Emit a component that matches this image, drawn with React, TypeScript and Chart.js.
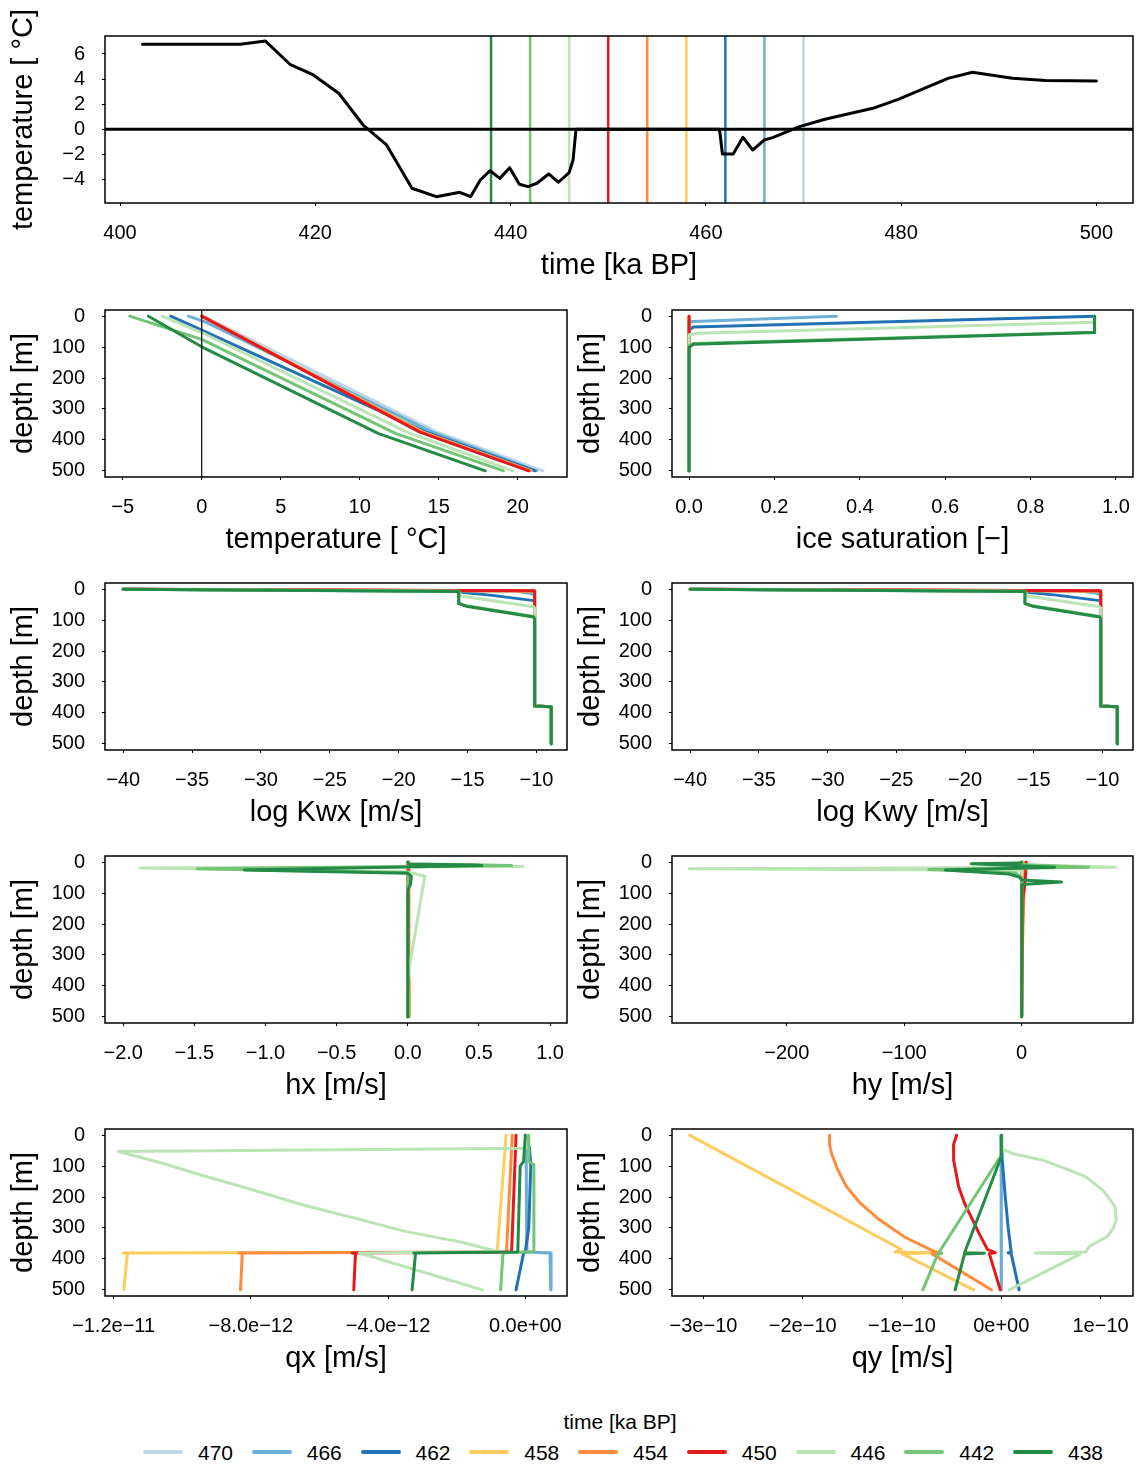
import React, { useEffect, useRef } from 'react';
import { Chart, registerables } from 'chart.js';

Chart.register(...registerables);

const FONT = "'Liberation Sans', Arial, Helvetica, sans-serif";

// ---------------- data ----------------
const TIMES = [470, 466, 462, 458, 454, 450, 446, 442, 438];
const COLORS = ['#bdd7e7', '#6baed6', '#2171b5', '#fecc5c', '#fd8d3c', '#e31a1c', '#bae4b3', '#74c476', '#238b45'];

const TOP_TIME = [402.3, 412.3, 414.9, 417.4, 419.8, 422.4, 424.9, 427.3, 429.9, 432.4, 434.8, 435.9, 436.9, 437.9, 438.9, 439.9, 440.9, 441.8, 442.7, 443.9, 444.9, 446.0, 446.4, 446.7, 461.4, 461.7, 462.8, 463.8, 464.8, 466.0, 466.9, 469.6, 472.2, 477.1, 479.7, 484.8, 487.3, 491.4, 494.8, 500.0];
const TOP_TEMP = [6.77, 6.77, 7.03, 5.18, 4.33, 2.87, 0.34, -1.25, -4.70, -5.37, -5.02, -5.37, -4.04, -3.30, -3.91, -3.06, -4.38, -4.57, -4.30, -3.56, -4.22, -3.45, -2.45, 0, 0, -1.97, -1.97, -0.64, -1.65, -0.85, -0.64, 0.21, 0.80, 1.67, 2.39, 4.06, 4.54, 4.06, 3.88, 3.85];

const TOP_X_TICKS = [400, 420, 440, 460, 480, 500];
const TOP_Y_TICKS = [-4, -2, 0, 2, 4, 6];
const DEPTH_TICKS = [0, 100, 200, 300, 400, 500];
const TEMP_TICKS = [-5, 0, 5, 10, 15, 20];
const ICE_TICKS = [0, 0.2, 0.4, 0.6, 0.8, 1.0];
const KW_TICKS = [-40, -35, -30, -25, -20, -15, -10];
const HX_TICKS = [-2, -1.5, -1, -0.5, 0, 0.5, 1];
const HY_TICKS = [-200, -100, 0];
const QX_TICKS = [-1.2e-11, -8e-12, -4e-12, 0];
const QY_TICKS = [-3e-10, -2e-10, -1e-10, 0, 1e-10];

// profiles: one list per time (order of TIMES), points are [depth, value]
const TEMP_PROFILES = [
  [[0, 0.1], [375, 14.9], [500, 21.6]],
  [[0, -0.84], [20, 0.3], [375, 14.6], [500, 21.2]],
  [[0, -1.96], [45, 0], [375, 14.2], [500, 21.1]],
  [[0, 0], [375, 14.0], [500, 20.85]],
  [[0, 0], [375, 13.95], [500, 20.8]],
  [[0, 0], [375, 13.8], [500, 20.7]],
  [[0, -2.5], [60, 0.3], [375, 13.0], [500, 19.7]],
  [[0, -4.56], [75, 0], [380, 12.3], [500, 19.1]],
  [[0, -3.37], [99, 0], [380, 11.2], [500, 17.95]],
];

const ICE_PROFILES = [
  [[0, 0], [500, 0]],
  [[0, 0.345], [17, 0.01], [19, 0], [500, 0]],
  [[0, 0.95], [35, 0.01], [45, 0], [500, 0]],
  [[0, 0], [500, 0]],
  [[0, 0], [500, 0]],
  [[0, 0], [500, 0]],
  [[0, 0.95], [20, 0.95], [55, 0.02], [60, 0], [500, 0]],
  [[0, 0.95], [52, 0.95], [88, 0.01], [96, 0], [500, 0]],
  [[0, 0.95], [53, 0.95], [91, 0.01], [101, 0], [500, 0]],
];

const KWX_PROFILES = [
  [[0, -40], [6, -10.13], [378, -10.13], [380, -8.92], [500, -8.92]],
  [[0, -40], [6, -11.6], [12, -10.6], [18, -10.13], [378, -10.13], [380, -8.92], [500, -8.92]],
  [[0, -40], [7, -15.64], [11, -15.3], [20, -13.2], [37, -10.2], [40, -10.13], [378, -10.13], [380, -8.92], [500, -8.92]],
  [[0, -40], [6, -10.13], [378, -10.13], [380, -8.92], [500, -8.92]],
  [[0, -40], [6, -10.13], [378, -10.13], [380, -8.92], [500, -8.92]],
  [[0, -40], [5, -10.13], [378, -10.13], [380, -8.92], [500, -8.92]],
  [[0, -40], [7, -15.64], [22, -15.5], [57, -10.2], [62, -10.13], [378, -10.13], [380, -8.92], [500, -8.92]],
  [[0, -40], [7, -15.64], [47, -15.64], [53, -15.2], [88, -10.2], [95, -10.13], [378, -10.13], [380, -8.92], [500, -8.92]],
  [[0, -40], [7.5, -15.64], [46, -15.64], [55, -15.1], [90, -10.2], [98, -10.13], [378, -10.13], [380, -8.92], [500, -8.92]],
];
const KWY_PROFILES = KWX_PROFILES;

const HX_PROFILES = [
  [[0, 0], [500, 0]],
  [[0, 0], [500, 0]],
  [[0, 0], [500, 0]],
  [[0, 0], [370, 0.005], [380, 0.012], [500, 0.012]],
  [[0, 0.003], [500, 0.008]],
  [[0, 0.005], [60, 0.003], [500, 0]],
  [[0, 0], [8, 0.02], [14, 0.81], [19, -1.88], [32, 0], [45, 0.12], [370, 0], [500, 0]],
  [[0, 0], [6, 0.01], [9, 0.55], [11, 0.73], [21, -1.48], [33, 0], [500, 0]],
  [[0, 0], [6, 0.01], [9, 0.47], [11, 0.52], [25, -1.15], [36, 0], [45, 0.025], [70, 0.02], [90, 0], [500, 0]],
];

const HY_PROFILES = [
  [[0, 0], [500, 0]],
  [[0, 0], [500, 0]],
  [[0, 0.5], [500, 0]],
  [[0, 2], [200, 1], [500, 0]],
  [[0, 3], [200, 1], [500, 0]],
  [[0, 4], [60, 3], [120, 1], [500, 0]],
  [[0, 0], [8, 2], [16, 80], [21, -283], [26, 0], [60, 0], [500, 0]],
  [[0, 0], [8, 1], [16, 57], [24, -79], [35, -5], [50, 0], [500, 0]],
  [[0, 0], [3, -2], [5, -43], [16, 28], [25, -65], [38, -11], [48, -2], [58, 0], [64, 34], [72, 0], [500, 0]],
];

const QX_PROFILES = [
  [[0, 0.03e-12], [378, 0.06e-12], [381, 0.76e-12], [500, 0.76e-12]],
  [[0, 0.02e-12], [378, 0.04e-12], [381, 0.72e-12], [500, 0.74e-12]],
  [[0, 0], [40, 0.12e-12], [100, 0.16e-12], [300, 0.1e-12], [378, 0], [381, -0.05e-12], [500, -0.27e-12]],
  [[0, -0.56e-12], [378, -0.82e-12], [381, -11.72e-12], [383, -11.6e-12], [500, -11.7e-12]],
  [[0, -0.38e-12], [378, -0.55e-12], [381, -8.35e-12], [383, -8.25e-12], [500, -8.3e-12]],
  [[0, -0.27e-12], [378, -0.4e-12], [381, -5.05e-12], [383, -4.95e-12], [500, -5.0e-12]],
  [[0, 0.02e-12], [42, 0.05e-12], [53, -11.86e-12], [65, -11.45e-12], [90, -10.6e-12], [128, -9.48e-12], [175, -8.0e-12], [225, -6.5e-12], [273, -4.8e-12], [311, -3.5e-12], [345, -1.9e-12], [376, -0.8e-12], [381, -4.84e-12], [500, -1.25e-12]],
  [[0, 0.1e-12], [85, 0.1e-12], [95, 0.25e-12], [376, 0.25e-12], [381, -0.65e-12], [500, -0.72e-12]],
  [[0, 0], [85, -0.05e-12], [100, -0.15e-12], [378, -0.22e-12], [381, -3.25e-12], [383, -3.2e-12], [500, -3.3e-12]],
];

const QY_PROFILES = [
  [[0, 0], [500, 0]],
  [[0, 0], [500, 0]],
  [[0, 0], [80, 0.01e-10], [200, 0.04e-10], [300, 0.07e-10], [378, 0.1e-10], [380, 0.07e-10], [383, 0.1e-10], [500, 0.18e-10]],
  [[0, -3.14e-10], [369, -1.01e-10], [378, -1.07e-10], [380, -0.68e-10], [383, -1.0e-10], [500, -0.28e-10]],
  [[0, -1.73e-10], [30, -1.73e-10], [59, -1.71e-10], [110, -1.65e-10], [166, -1.56e-10], [220, -1.42e-10], [273, -1.23e-10], [330, -0.97e-10], [369, -0.72e-10], [380, -0.64e-10], [383, -0.7e-10], [500, -0.1e-10]],
  [[0, -0.45e-10], [30, -0.48e-10], [80, -0.48e-10], [166, -0.43e-10], [220, -0.37e-10], [273, -0.29e-10], [320, -0.22e-10], [369, -0.14e-10], [380, -0.06e-10], [383, -0.12e-10], [500, -0.01e-10]],
  [[0, 0.01e-10], [45, 0.01e-10], [60, 0.12e-10], [80, 0.41e-10], [105, 0.62e-10], [134, 0.85e-10], [180, 1.03e-10], [230, 1.145e-10], [273, 1.16e-10], [300, 1.13e-10], [327, 1.07e-10], [359, 0.89e-10], [378, 0.85e-10], [381, 0.34e-10], [384, 0.8e-10], [500, 0.08e-10]],
  [[0, 0], [65, 0], [380, -0.63e-10], [382, -0.6e-10], [385, -0.64e-10], [500, -0.79e-10]],
  [[0, 0], [70, 0], [380, -0.37e-10], [382, -0.17e-10], [384, -0.37e-10], [500, -0.465e-10]],
];

// ---------------- helpers ----------------
const WY = 100; // y axis box width
const HX = 85; // x axis box height

const minus = (s: string) => s.replace(/-/g, '\u2212');
const fmtInt = (v: number) => minus(String(Math.round(v)));
const fmt1 = (v: number) => minus(v.toFixed(1));
function sci(v: number, dec: number): string {
  if (v === 0) return (0).toFixed(dec) + 'e+00';
  const e = Math.floor(Math.log10(Math.abs(v)) + 1e-9);
  const m = v / Math.pow(10, e);
  const es = (e < 0 ? '\u2212' : '+') + String(Math.abs(e)).padStart(2, '0');
  return minus(m.toFixed(dec)) + 'e' + es;
}

function profileSets(profiles: number[][][]) {
  return profiles
    .map((pts, i) => ({
      label: String(TIMES[i]),
      data: pts.map(([d, v]) => ({ x: v, y: d })),
      borderColor: COLORS[i],
      backgroundColor: COLORS[i],
      borderWidth: 3,
      showLine: true,
      pointRadius: 0,
      fill: false,
      tension: 0,
      borderCapStyle: 'round',
      borderJoinStyle: 'round',
    }))
    .reverse();
}

type RefLine = { value: number; color: string; width: number };
type Spec = {
  box: [number, number, number, number];
  pr: number;
  pt: number;
  xRange: [number, number];
  xTicks: number[];
  xFmt: (v: number) => string;
  xTitle: string;
  yRange: [number, number];
  yTicks: number[];
  yFmt: (v: number) => string;
  yTitle: string;
  yReverse: boolean;
  datasets: any[];
  vlines?: RefLine[];
  hlines?: RefLine[];
  linesAbove?: boolean;
};

const depthAxis = {
  yRange: [-20, 520] as [number, number],
  yTicks: DEPTH_TICKS,
  yFmt: fmtInt,
  yTitle: 'depth [m]',
  yReverse: true,
  pt: 15,
};

const SPECS: Spec[] = [
  {
    box: [105, 36, 1133, 203], pr: 6, pt: 36,
    xRange: [398.46, 503.75], xTicks: TOP_X_TICKS, xFmt: fmtInt, xTitle: 'time [ka BP]',
    yRange: [-5.873, 7.434], yTicks: TOP_Y_TICKS, yFmt: fmtInt, yTitle: 'temperature [ \u00b0C]', yReverse: false,
    datasets: [{
      label: 'T',
      data: TOP_TIME.map((t, i) => ({ x: t, y: TOP_TEMP[i] })),
      borderColor: '#000', backgroundColor: '#000', borderWidth: 3, showLine: true, pointRadius: 0,
      tension: 0, borderJoinStyle: 'round', borderCapStyle: 'round',
    }],
    vlines: TIMES.map((t, i) => ({ value: t, color: COLORS[i], width: 2.5 })),
    hlines: [{ value: 0, color: '#000', width: 3 }],
    linesAbove: false,
  },
  {
    box: [105, 310, 567, 477], pr: 20,
    xRange: [-6.12, 23.12], xTicks: TEMP_TICKS, xFmt: fmtInt, xTitle: 'temperature [ \u00b0C]',
    ...depthAxis, datasets: profileSets(TEMP_PROFILES),
    vlines: [{ value: 0, color: '#000', width: 1.2 }], linesAbove: true,
  },
  {
    box: [672, 310, 1133, 477], pr: 6,
    xRange: [-0.04, 1.04], xTicks: ICE_TICKS, xFmt: fmt1, xTitle: 'ice saturation [\u2212]',
    ...depthAxis, datasets: profileSets(ICE_PROFILES),
  },
  {
    box: [105, 583, 567, 750], pr: 20,
    xRange: [-41.32, -7.78], xTicks: KW_TICKS, xFmt: fmtInt, xTitle: 'log Kwx [m/s]',
    ...depthAxis, datasets: profileSets(KWX_PROFILES),
  },
  {
    box: [672, 583, 1133, 750], pr: 6,
    xRange: [-41.32, -7.78], xTicks: KW_TICKS, xFmt: fmtInt, xTitle: 'log Kwy [m/s]',
    ...depthAxis, datasets: profileSets(KWY_PROFILES),
  },
  {
    box: [105, 856, 567, 1023], pr: 20,
    xRange: [-2.128, 1.119], xTicks: HX_TICKS, xFmt: fmt1, xTitle: 'hx [m/s]',
    ...depthAxis, datasets: profileSets(HX_PROFILES),
  },
  {
    box: [672, 856, 1133, 1023], pr: 6,
    xRange: [-297.7, 94.8], xTicks: HY_TICKS, xFmt: fmtInt, xTitle: 'hy [m/s]',
    ...depthAxis, datasets: profileSets(HY_PROFILES),
  },
  {
    box: [105, 1129, 567, 1296], pr: 20,
    xRange: [-12.25e-12, 1.215e-12], xTicks: QX_TICKS, xFmt: (v) => sci(v, 1), xTitle: 'qx [m/s]',
    ...depthAxis, datasets: profileSets(QX_PROFILES),
  },
  {
    box: [672, 1129, 1133, 1296], pr: 6,
    xRange: [-3.317e-10, 1.327e-10], xTicks: QY_TICKS, xFmt: (v) => sci(v, 0), xTitle: 'qy [m/s]',
    ...depthAxis, datasets: profileSets(QY_PROFILES),
  },
];

function makeFramePlugin(spec: Spec) {
  const drawLines = (chart: any) => {
    const { ctx, chartArea: a, scales } = chart;
    ctx.save();
    ctx.beginPath();
    ctx.rect(a.left, a.top, a.right - a.left, a.bottom - a.top);
    ctx.clip();
    (spec.vlines || []).forEach((l) => {
      const x = scales.x.getPixelForValue(l.value);
      ctx.strokeStyle = l.color;
      ctx.lineWidth = l.width;
      ctx.beginPath();
      ctx.moveTo(x, a.top);
      ctx.lineTo(x, a.bottom);
      ctx.stroke();
    });
    (spec.hlines || []).forEach((l) => {
      const y = scales.y.getPixelForValue(l.value);
      ctx.strokeStyle = l.color;
      ctx.lineWidth = l.width;
      ctx.beginPath();
      ctx.moveTo(a.left, y);
      ctx.lineTo(a.right, y);
      ctx.stroke();
    });
    ctx.restore();
  };
  return {
    id: 'frameLines',
    beforeDatasetsDraw(chart: any) {
      if (!spec.linesAbove) drawLines(chart);
    },
    afterDatasetsDraw(chart: any) {
      if (spec.linesAbove) drawLines(chart);
    },
    afterDraw(chart: any) {
      const { ctx, chartArea: a } = chart;
      ctx.save();
      ctx.strokeStyle = '#000';
      ctx.lineWidth = 1.5;
      ctx.strokeRect(a.left, a.top, a.right - a.left, a.bottom - a.top);
      ctx.restore();
    },
  };
}

function Panel({ spec }: { spec: Spec }) {
  const ref = useRef<HTMLCanvasElement>(null);
  const [l, t, r, b] = spec.box;
  const W = WY + (r - l) + spec.pr;
  const H = spec.pt + (b - t) + HX;
  useEffect(() => {
    if (!ref.current) return;
    const tickFont = { size: 20, family: FONT };
    const titleFont = { size: 29, family: FONT, lineHeight: 1.2 };
    const grid = { drawOnChartArea: false, drawTicks: true, tickLength: 3, color: '#000', lineWidth: 1 };
    const chart = new Chart(ref.current, {
      type: 'scatter',
      data: { datasets: spec.datasets },
      options: {
        responsive: false,
        maintainAspectRatio: false,
        animation: false,
        events: [],
        layout: { padding: { top: spec.pt, right: spec.pr, left: 0, bottom: 0 } },
        elements: { point: { radius: 0 } },
        plugins: { legend: { display: false }, tooltip: { enabled: false }, title: { display: false } },
        scales: {
          x: {
            type: 'linear',
            position: 'bottom',
            min: spec.xRange[0],
            max: spec.xRange[1],
            afterBuildTicks: (s: any) => {
              s.ticks = spec.xTicks.map((v) => ({ value: v }));
            },
            afterFit: (s: any) => {
              s.height = HX;
              s.paddingLeft = 0;
              s.paddingRight = 0;
              s.paddingTop = 0;
              s.paddingBottom = 0;
            },
            ticks: {
              callback: (v: any) => spec.xFmt(Number(v)),
              font: tickFont,
              color: '#000',
              padding: 15,
              autoSkip: false,
              maxRotation: 0,
              minRotation: 0,
            },
            grid,
            border: { display: false },
            title: { display: true, text: spec.xTitle, font: titleFont, color: '#000', padding: { top: 0, bottom: 5 } },
          },
          y: {
            type: 'linear',
            position: 'left',
            min: spec.yRange[0],
            max: spec.yRange[1],
            reverse: spec.yReverse,
            afterBuildTicks: (s: any) => {
              s.ticks = spec.yTicks.map((v) => ({ value: v }));
            },
            afterFit: (s: any) => {
              s.width = WY;
              s.paddingLeft = 0;
              s.paddingRight = 0;
              s.paddingTop = 0;
              s.paddingBottom = 0;
            },
            ticks: {
              callback: (v: any) => spec.yFmt(Number(v)),
              font: tickFont,
              color: '#000',
              padding: 17,
              autoSkip: false,
            },
            grid,
            border: { display: false },
            title: { display: true, text: spec.yTitle, font: titleFont, color: '#000', padding: { top: 2, bottom: 0 } },
          },
        },
      } as any,
      plugins: [makeFramePlugin(spec)],
    });
    return () => chart.destroy();
  }, [spec]);
  return (
    <canvas
      ref={ref}
      width={W}
      height={H}
      style={{ position: 'absolute', left: l - WY, top: t - spec.pt, width: W, height: H }}
    />
  );
}

function Legend() {
  const step = 108.75;
  return (
    <>
      <div
        style={{
          position: 'absolute', left: 520, top: 1411, width: 200, textAlign: 'center',
          fontFamily: FONT, fontSize: 21, lineHeight: '21px', color: '#000', whiteSpace: 'nowrap',
        }}
      >
        time [ka BP]
      </div>
      {TIMES.map((t, i) => (
        <React.Fragment key={t}>
          <div
            style={{
              position: 'absolute', left: 143 + i * step, top: 1450.2, width: 40, height: 3.6,
              background: COLORS[i], borderRadius: 2,
            }}
          />
          <div
            style={{
              position: 'absolute', left: 198 + i * step, top: 1441.7, fontFamily: FONT, fontSize: 21,
              lineHeight: '21px', color: '#000', whiteSpace: 'nowrap',
            }}
          >
            {t}
          </div>
        </React.Fragment>
      ))}
    </>
  );
}

export default function App() {
  return (
    <div
      style={{
        position: 'absolute', left: 0, top: 0, width: 1139, height: 1465, overflow: 'hidden', background: '#fff',
      }}
    >
      {SPECS.map((s, i) => (
        <Panel key={i} spec={s} />
      ))}
      <Legend />
    </div>
  );
}
